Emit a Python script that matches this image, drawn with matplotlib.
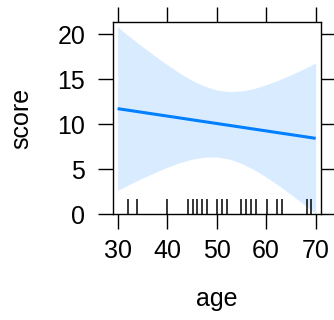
import numpy as np
import matplotlib
matplotlib.use('Agg')
import matplotlib.pyplot as plt
import matplotlib.transforms as mtransforms

plt.rcParams['font.family'] = ['Liberation Sans', 'DejaVu Sans']

# effect estimate and confidence band
age_grid = [30, 32.5, 35, 37.5, 40, 42.5, 45, 47.5, 50, 52.5, 55, 57.5, 60, 62.5, 65, 67.5, 70]
upper = [20.82, 19.72, 18.65, 17.62, 16.63, 15.71, 14.90, 14.26, 13.82, 13.64, 13.71, 13.98, 14.40, 14.92, 15.51, 16.14, 16.81]
lower = [2.68, 3.36, 4.02, 4.65, 5.22, 5.73, 6.12, 6.36, 6.38, 6.15, 5.67, 4.98, 4.15, 3.22, 2.21, 1.17, 0.09]
line_age = [30, 70]
line_score = [11.75, 8.45]

# observed ages (rug)
ages = [32.0, 34.0, 40.0, 44.3, 45.2, 46.1, 47.0, 48.0, 50.1, 51.0, 52.1,
        55.0, 55.9, 56.9, 58.0, 60.1, 62.1, 63.1, 68.2, 69.0]

xticks = [30, 40, 50, 60, 70]
yticks = [0, 5, 10, 15, 20]

fig = plt.figure(figsize=(3.34, 3.2), dpi=100)
ax = fig.add_axes([0.338, 0.330, 0.623, 0.602])

ax.fill_between(age_grid, lower, upper, color='#d9ecff', lw=0)
ax.plot(line_age, line_score, color='#0080ff', lw=2.2, solid_capstyle='butt')

trans = mtransforms.blended_transform_factory(ax.transData, ax.transAxes)
ax.vlines(ages, 0, 0.078, colors='black', lw=1.1, transform=trans)

ax.set_xlim(29.05, 71.07)
ax.set_ylim(0, 21.4)
ax.set_xticks(xticks)
ax.set_yticks(yticks)

ax.tick_params(axis='both', direction='out', length=10.5, width=1.0,
               labelsize=18, top=True, right=True,
               labeltop=False, labelright=False)
ax.tick_params(axis='x', pad=7.5)
ax.tick_params(axis='y', pad=9.4)
for s in ax.spines.values():
    s.set_linewidth(1.0)

ax.set_xlabel('age', fontsize=18, labelpad=17)
ax.set_ylabel('score', fontsize=18, labelpad=17)

fig.savefig('out.png', dpi=100)
